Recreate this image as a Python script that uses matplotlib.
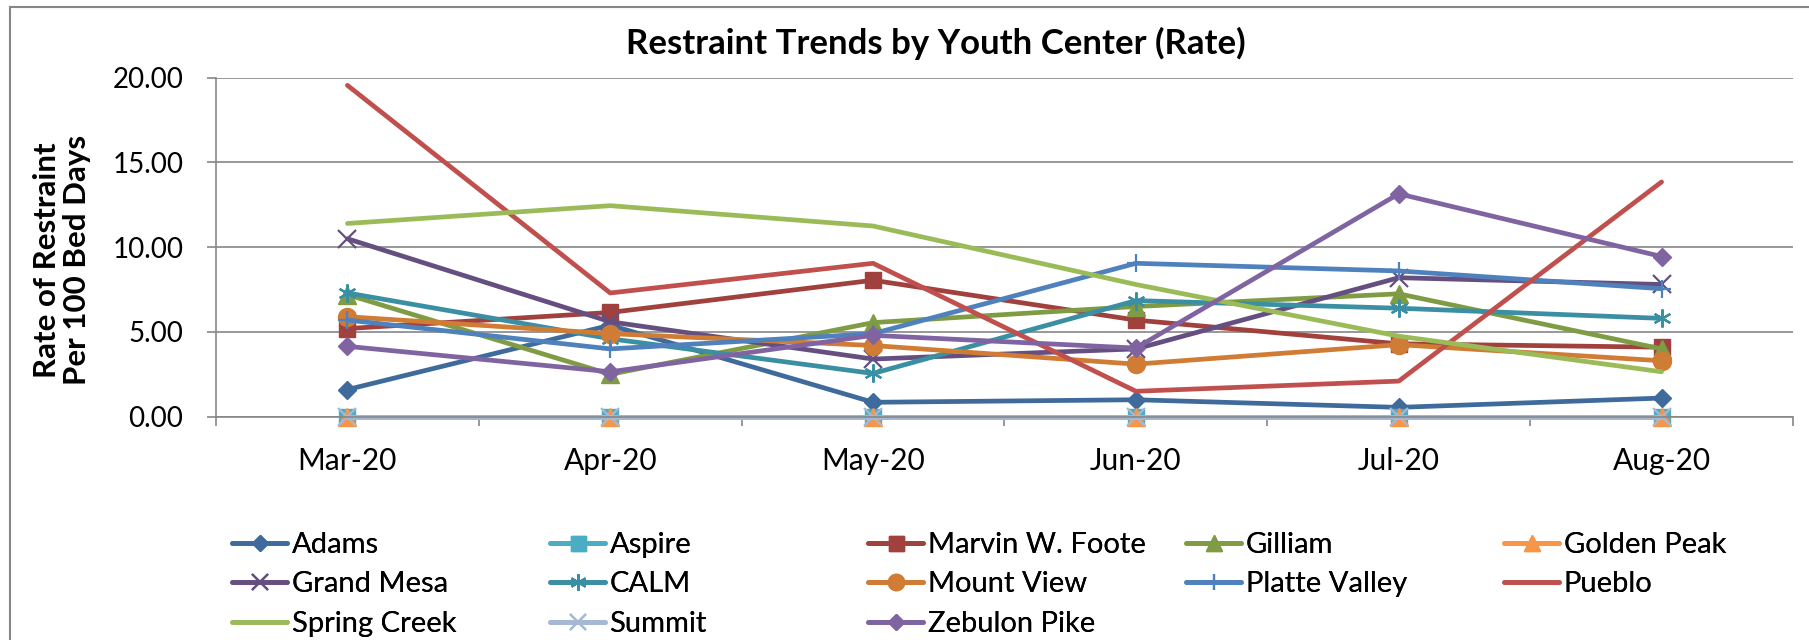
import matplotlib.pyplot as plt
from matplotlib.lines import Line2D
from matplotlib.ticker import FormatStrFormatter
import numpy as np

plt.rcParams['font.family'] = ['Lato', 'DejaVu Sans']

# Data
months = ['Mar-20', 'Apr-20', 'May-20', 'Jun-20', 'Jul-20', 'Aug-20']

centers = ['Adams', 'Aspire', 'Marvin W. Foote', 'Gilliam', 'Golden Peak',
           'Grand Mesa', 'CALM', 'Mount View', 'Platte Valley', 'Pueblo',
           'Spring Creek', 'Summit', 'Zebulon Pike']

adams = [1.6, 5.4, 0.85, 1.0, 0.55, 1.1]
aspire = [0, 0, 0, 0, 0, 0]
marvin = [5.2, 6.15, 8.05, 5.7, 4.3, 4.1]
gilliam = [7.2, 2.5, 5.55, 6.5, 7.25, 4.0]
golden_peak = [0, 0, 0, 0, 0, 0]
grand_mesa = [10.5, 5.6, 3.4, 4.0, 8.2, 7.8]
calm = [7.3, 4.6, 2.55, 6.85, 6.4, 5.8]
mount_view = [5.9, 4.9, 4.2, 3.1, 4.25, 3.3]
platte_valley = [5.7, 4.0, 4.9, 9.05, 8.6, 7.55]
pueblo = [19.55, 7.3, 9.05, 1.5, 2.1, 13.85]
spring_creek = [11.4, 12.45, 11.25, 7.8, 4.75, 2.65]
summit = [0, 0, 0, 0, 0, 0]
zebulon = [4.15, 2.65, 4.8, 4.05, 13.15, 9.45]

series = [adams, aspire, marvin, gilliam, golden_peak, grand_mesa, calm,
          mount_view, platte_valley, pueblo, spring_creek, summit, zebulon]

# Styles: color, marker, marker size
colors = ['#3F6A9C', '#4BACC6', '#A0413E', '#7F9C45', '#F79646',
          '#654F80', '#3A8FA2', '#D07C34', '#4F81BD', '#C0504D',
          '#9BBB59', '#A5B8D4', '#8064A2']
markers = ['D', 's', 's', '^', '^', 'x', (6, 2, 0), 'o', '+', None, None, 'x', 'D']
msizes = [9, 12, 12, 13, 13, 13, 13, 13, 13, 0, 0, 13, 9]

grid_color = '#868686'
W, H = 1809, 640

fig = plt.figure(figsize=(W / 100, H / 100), dpi=100)
ax = fig.add_axes([216 / W, 1 - 416.7 / H, (1793 - 216) / W, (416.7 - 77.7) / H])

x = np.arange(len(months))
handles = []
for i, vals in enumerate(series):
    m = markers[i]
    thin = m in ('x', '+', (6, 2, 0))
    line, = ax.plot(x, vals, color=colors[i], lw=3.4, marker=m, ms=msizes[i],
                    mec=colors[i], mfc=colors[i], mew=1.6 if thin else 1,
                    solid_joinstyle='round', solid_capstyle='round',
                    clip_on=False, label=centers[i])
    handles.append(line)

ax.set_xlim(-0.5, len(months) - 0.5)
ax.set_ylim(0, 20)
ax.set_yticks(np.arange(0, 21, 5))
ax.yaxis.set_major_formatter(FormatStrFormatter('%.2f'))
ax.set_xticks(x)
ax.set_xticklabels(months)
ax.set_xticks(np.arange(-0.5, len(months), 1), minor=True)

ax.tick_params(axis='x', which='major', length=0, pad=22, labelsize=21.5)
ax.tick_params(axis='x', which='minor', length=6.5, width=1.2, color=grid_color, direction='out')
ax.tick_params(axis='y', length=6.5, width=1.2, color=grid_color, pad=17, labelsize=20)

ax.grid(axis='y', color=grid_color, lw=1.2)
ax.set_axisbelow(True)
for s in ['top', 'right']:
    ax.spines[s].set_visible(False)
for s in ['left', 'bottom']:
    ax.spines[s].set_color(grid_color)
    ax.spines[s].set_linewidth(1.2)

fig.text(936 / W, 1 - 43 / H, 'Restraint Trends by Youth Center (Rate)',
         ha='center', va='center', fontsize=25, fontweight='bold')
fig.text(62 / W, 1 - 260 / H, 'Rate of Restraint\nPer 100 Bed Days', rotation=90,
         ha='center', va='center', multialignment='center',
         fontsize=22.5, fontweight='bold', linespacing=1.12)

# Legend: 5 columns, entries filled row by row
col_x = [232, 550, 868, 1186, 1504]
for c in range(5):
    hs = handles[c::5]
    leg = fig.legend(handles=hs, labels=[h.get_label() for h in hs],
                     loc='upper left', bbox_to_anchor=(col_x[c] / W, 1 - 532 / H),
                     frameon=False, fontsize=21, handlelength=1.9, handletextpad=0.14,
                     labelspacing=0.46, borderpad=0, borderaxespad=0, numpoints=1,
                     markerscale=0.9)
    fig.add_artist(leg)

# Outer chart border (cropped on right and bottom)
fig.add_artist(Line2D([10 / W, 10 / W], [0, 1 - 7 / H], color=grid_color, lw=1.5,
                      transform=fig.transFigure))
fig.add_artist(Line2D([10 / W, 1], [1 - 7 / H, 1 - 7 / H], color=grid_color, lw=1.5,
                      transform=fig.transFigure))

fig.savefig('out.png', dpi=100)
